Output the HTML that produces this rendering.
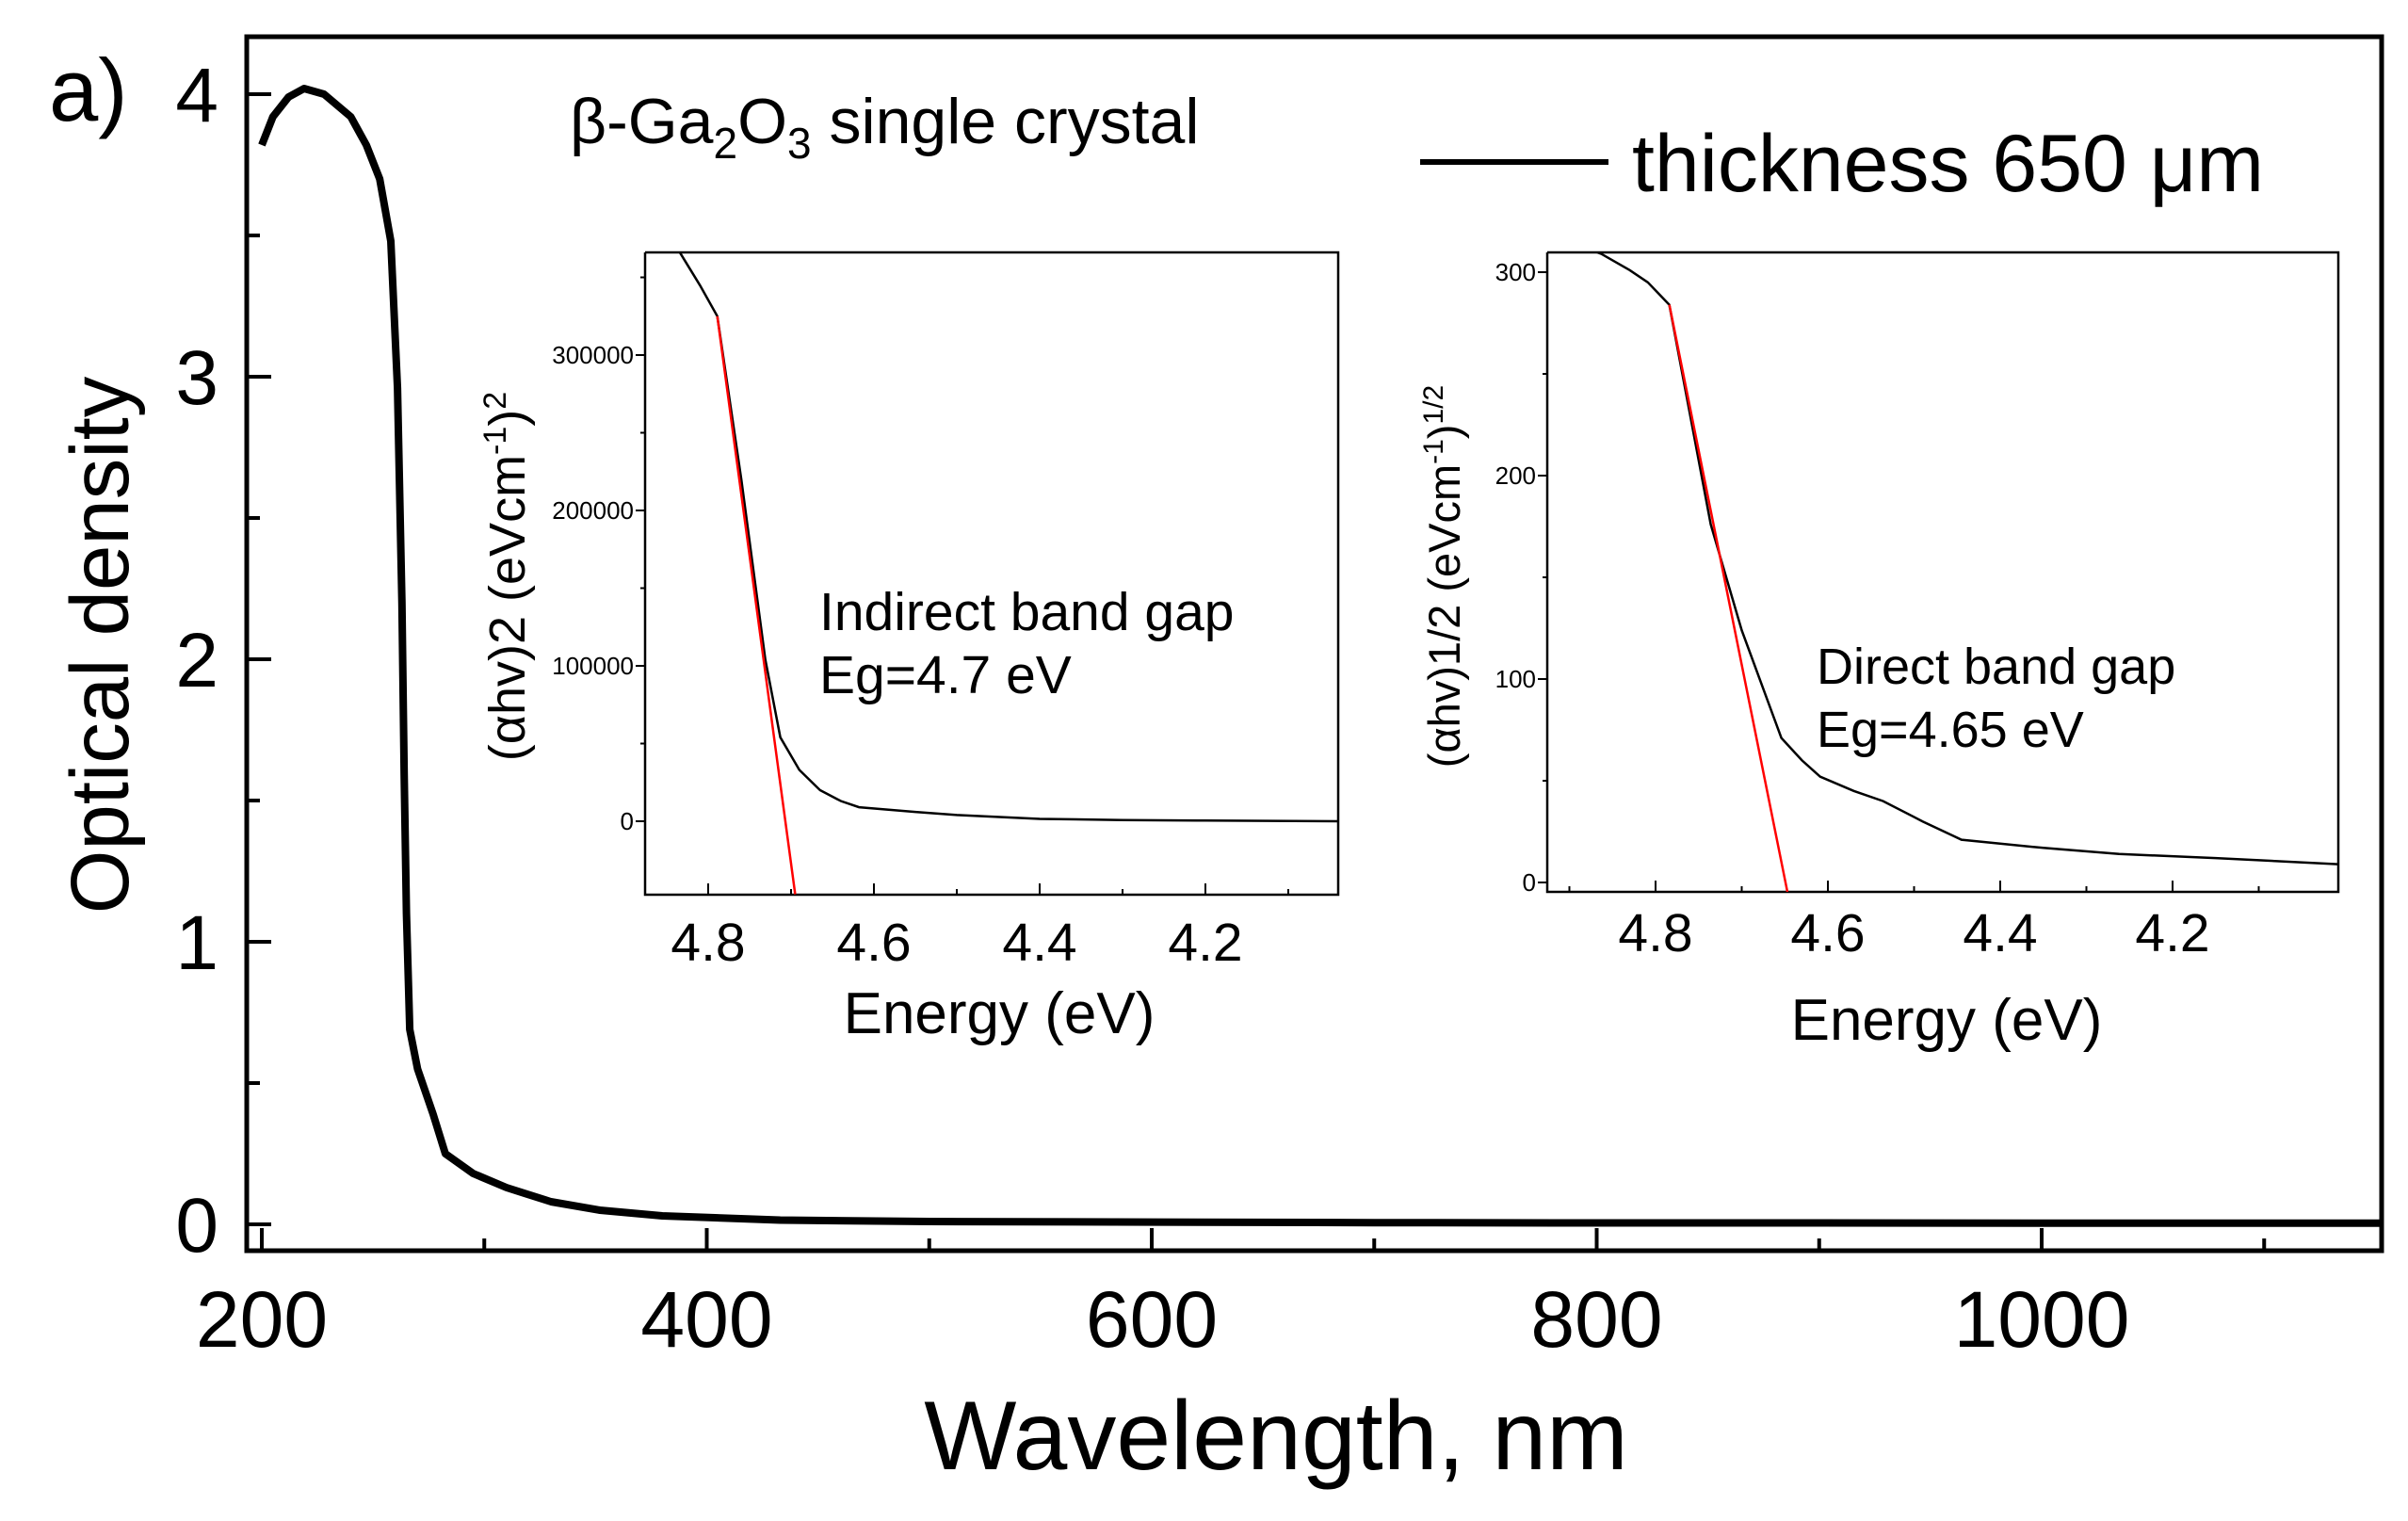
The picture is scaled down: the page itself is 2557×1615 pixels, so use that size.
<!DOCTYPE html>
<html><head><meta charset="utf-8"><style>
html,body{margin:0;padding:0;background:#fff}
svg{display:block}
text{font-family:"Liberation Sans",Arial,sans-serif;fill:#000}
</style></head><body>
<svg id="chart" width="2557" height="1615" viewBox="0 0 2557 1615" xmlns="http://www.w3.org/2000/svg">
<g id="main"></g><g id="in1"></g><g id="in2"></g>
</svg>
<script>
// Main chart data
const mainWavelength = [200,205,212,219,228,240,247,253,258,261,263,264,265,266.5,270,277,282.5,295,310,330,352,380,433,500,600,700,800,900,1000,1100,1153];
const mainOD = [3.82,3.92,3.99,4.02,4.0,3.92,3.82,3.7,3.48,2.96,2.2,1.59,1.1,0.69,0.55,0.39,0.25,0.18,0.13,0.08,0.05,0.03,0.015,0.01,0.008,0.006,0.005,0.005,0.004,0.004,0.004];
const mainXTicks = [200,400,600,800,1000];
const mainYTicks = [0,1,2,3,4];
// Inset 1 (indirect)
const in1E = [4.876,4.85,4.833,4.81,4.789,4.76,4.731,4.713,4.69,4.665,4.64,4.618,4.55,4.5,4.4,4.3,4.2,4.04];
const in1V = [400000,380000,365000,345000,325000,220000,104000,54000,33000,20000,13000,9000,6000,4000,1500,800,400,0];
const in1Fit = [[4.789,325000],[4.695,-47000]];
const in1XTicks = [4.8,4.6,4.4,4.2];
const in1YTicks = [0,100000,200000,300000];
const in1YLabels = ["0","100000","200000","300000"];
// Inset 2 (direct)
const in2E = [4.9,4.863,4.83,4.809,4.784,4.76,4.736,4.7,4.654,4.63,4.609,4.57,4.536,4.49,4.445,4.35,4.262,4.15,4.008];
const in2V = [315,309,301,295,284,230,176,124,71,60,52,45,40,30,21,17,14,12,9];
const in2Fit = [[4.784,284],[4.647,-4.6]];
const in2XTicks = [4.8,4.6,4.4,4.2];
const in2YTicks = [0,100,200,300];

const NS="http://www.w3.org/2000/svg";
function mk(parent,tag,attrs,txt){const e=document.createElementNS(NS,tag);for(const k in attrs)e.setAttribute(k,attrs[k]);if(txt!==undefined)e.textContent=txt;parent.appendChild(e);return e;}

// ---- main ----
const M=document.getElementById('main');
const mx=w=>278+(w-200)*2.3625, my=v=>1300-300*v;
const ML=262,MT=39,MR=2529,MB=1328;
let f=mk(M,'rect',{x:ML,y:MT,width:MR-ML,height:MB-MT,fill:'none',stroke:'#000','stroke-width':5});


for(let w=200;w<=1100;w+=100){const maj=w%200===0;const t=mk(M,'line',{x1:mx(w),x2:mx(w),y1:MB,y2:MB-(maj?24:13),stroke:'#000','stroke-width':4});

}
mainXTicks.forEach(w=>{const t=mk(M,'text',{x:mx(w),y:1430,'font-size':84,'text-anchor':'middle'},String(w));

});
for(let v=0;v<=4;v+=0.5){const maj=v%1===0;const t=mk(M,'line',{x1:ML,x2:ML+(maj?26:14),y1:my(v),y2:my(v),stroke:'#000','stroke-width':4});

}
mainYTicks.forEach(v=>{const t=mk(M,'text',{x:232,y:my(v)+29,'font-size':82,'text-anchor':'end'},String(v));

});
let p=mk(M,'path',{d:mainWavelength.map((w,i)=>(i?'L':'M')+mx(w).toFixed(1)+','+my(mainOD[i]).toFixed(1)).join(''),fill:'none',stroke:'#000','stroke-width':8,'stroke-linejoin':'round'});


let t;
t=mk(M,'text',{x:1355,y:1560,'font-size':104,'text-anchor':'middle'},'Wavelength, nm');


t=mk(M,'text',{x:0,y:0,'font-size':87,'text-anchor':'middle',transform:'translate(136,685) rotate(-90)'},'Optical density');


t=mk(M,'text',{x:52,y:128,'font-size':94},'a)');


t=mk(M,'text',{x:605,y:152,'font-size':68});


t.innerHTML='β-Ga<tspan font-size="46" dy="16">2</tspan><tspan dy="-16">O</tspan><tspan font-size="46" dy="16">3</tspan><tspan dy="-16"> single crystal</tspan>';
let lg=mk(M,'line',{x1:1508,x2:1708,y1:172,y2:172,stroke:'#000','stroke-width':6});


t=mk(M,'text',{x:1733,y:203,'font-size':86},'thickness 650 μm');



// ---- insets ----
function inset(g,o){
  const xs=E=>o.x0+(o.e0-E)*o.kx, ys=v=>o.y0-v*o.ky;
  let fr=mk(g,'path',{d:`M${o.L},${o.T}H${o.R}V${o.B}H${o.L}V${o.T}`,fill:'#fff',stroke:'#000','stroke-width':2.5});
  
  
  for(let E=4.9;E>=4.0;E-=0.1){const x=xs(E);if(x<o.L+2||x>o.R-2)continue;const maj=Math.round(E*10)%2===0;
    const tk=mk(g,'line',{x1:x,x2:x,y1:o.B,y2:o.B-(maj?12:6),stroke:'#000','stroke-width':2});
    
    }
  o.xt.forEach(E=>{const tl=mk(g,'text',{x:xs(E),y:o.xly,'font-size':57,'text-anchor':'middle'},E.toFixed(1));
    
    });
  for(let v=o.yt[0];ys(v)>o.T;v+=o.yt[1]/2){if(ys(v)>o.B)continue;const maj=Math.round(v/(o.yt[1]/2))%2===0;
    const tk=mk(g,'line',{x1:o.L,x2:o.L-(maj?10:5),y1:ys(v),y2:ys(v),stroke:'#000','stroke-width':2});
    
    }
  o.ytv.forEach((v,i)=>{const tl=mk(g,'text',{x:o.L-12,y:ys(v)+9,'font-size':26,'text-anchor':'end'},o.ytl[i]);
    
    });
  const cp=mk(g,'clipPath',{id:o.name+'-clip'});mk(cp,'rect',{x:o.L,y:o.T,width:o.R-o.L,height:o.B-o.T});
  const c=mk(g,'path',{d:o.E.map((E,i)=>(i?'L':'M')+xs(E).toFixed(1)+','+ys(o.V[i]).toFixed(1)).join(''),fill:'none',stroke:'#000','stroke-width':2.5,'clip-path':`url(#${o.name}-clip)`});
  
  
  const r=mk(g,'line',{x1:xs(o.fit[0][0]),y1:ys(o.fit[0][1]),x2:xs(o.fit[1][0]),y2:ys(o.fit[1][1]),stroke:'#ff0000','stroke-width':2.5});
  
  
  let tt=mk(g,'text',{x:o.xtx,y:o.xty,'font-size':62,'text-anchor':'middle'},'Energy (eV)');
  
  
  tt=mk(g,'text',{x:0,y:0,'font-size':o.yfs,'text-anchor':'middle',transform:`translate(${o.ytx},${o.yty}) rotate(-90)`});
  tt.innerHTML=o.ytitle;
  
  
  tt=mk(g,'text',{x:o.tx,y:o.ty1,'font-size':o.afs},o.t1);
  
  
  tt=mk(g,'text',{x:o.tx,y:o.ty2,'font-size':o.afs},o.t2);
  
  
}
inset(document.getElementById('in1'),{name:'indirect-inset',L:685,T:268,R:1421,B:950,x0:752,e0:4.8,kx:880,y0:872,ky:165/100000,
  xt:in1XTicks,xly:1020,yt:[0,100000],ytv:in1YTicks,ytl:in1YLabels,E:in1E,V:in1V,fit:in1Fit,xtx:1061,xty:1097,ytx:557,yty:612,yfs:54,afs:57,
  ytitle:'(αhv)2 (eVcm<tspan font-size="34" dy="-20">-1</tspan><tspan dy="20">)</tspan><tspan font-size="34" dy="-20">2</tspan>',
  tx:870,ty1:669,ty2:736,t1:'Indirect band gap',t2:'Eg=4.7 eV'});
inset(document.getElementById('in2'),{name:'direct-inset',L:1643,T:268,R:2483,B:947,x0:1758,e0:4.8,kx:915,y0:937,ky:2.16,
  xt:in2XTicks,xly:1010,yt:[0,100],ytv:in2YTicks,ytl:in2YTicks.map(String),E:in2E,V:in2V,fit:in2Fit,xtx:2067,xty:1104,ytx:1550,yty:612,yfs:47,afs:54,
  ytitle:'(αhv)1/2 (eVcm<tspan font-size="30" dy="-18">-1</tspan><tspan dy="18">)</tspan><tspan font-size="30" dy="-18">1/2</tspan>',
  tx:1929,ty1:726,ty2:793,t1:'Direct band gap',t2:'Eg=4.65 eV'});
</script>
</body></html>
